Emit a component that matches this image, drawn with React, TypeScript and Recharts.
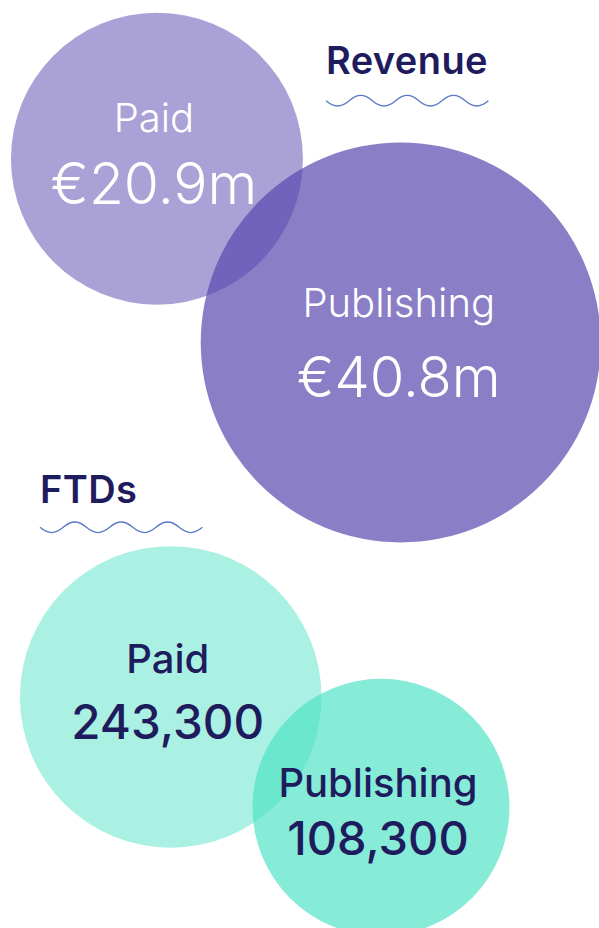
import { Cell, Scatter, ScatterChart, XAxis, YAxis, ZAxis } from "recharts";

const WIDTH = 599;
const HEIGHT = 928;
const FONT = "Inter, 'Noto Sans', sans-serif";
const NAVY = "#1f1c5e";
const WAVE = "#5a78c8";

/** Channels shown in each group, in drawing order. */
const channels = ["Paid", "Publishing"];

/** Revenue in €m, FTDs as counts. */
const revenueValues = [20.9, 40.8];
const ftdValues = [243300, 108300];

/** Bubble layout, in chart units (0–100 on both axes). */
const revenueX = [26.2, 66.9];
const revenueY = [17.1, 36.9];
const ftdX = [28.5, 63.6];
const ftdY = [75.1, 87.0];

interface Bubble {
  channel: string;
  value: number;
  x: number;
  y: number;
}

interface LabelPos {
  dx: number;
  nameDy: number;
  valueDy: number;
  valueSize: number;
}

interface GroupStyle {
  color: string;
  opacity: number[];
  textColor: string;
  weight: number;
  nameSize: number;
  labels: LabelPos[];
  format: (v: number) => string;
}

const toBubbles = (values: number[], xs: number[], ys: number[]): Bubble[] =>
  channels.map((channel, i) => ({ channel, value: values[i], x: xs[i], y: ys[i] }));

const revenueData = toBubbles(revenueValues, revenueX, revenueY);
const ftdData = toBubbles(ftdValues, ftdX, ftdY);

const REVENUE_STYLE: GroupStyle = {
  color: "#5948af",
  opacity: [0.51, 0.7],
  textColor: "#ffffff",
  weight: 300,
  nameSize: 40,
  labels: [
    { dx: -3, nameDy: -27, valueDy: 45, valueSize: 57 },
    { dx: -2, nameDy: -25.5, valueDy: 54.5, valueSize: 56 },
  ],
  format: (v) => `€${v.toFixed(1)}m`,
};

const FTD_STYLE: GroupStyle = {
  color: "#4de2c4",
  opacity: [0.48, 0.68],
  textColor: NAVY,
  weight: 500,
  nameSize: 40,
  labels: [
    { dx: -3, nameDy: -24, valueDy: 42.3, valueSize: 47.5 },
    { dx: -3, nameDy: -10.5, valueDy: 47.5, valueSize: 47 },
  ],
  format: (v) => v.toLocaleString("en-US"),
};

function makeBubbleShape(style: GroupStyle) {
  return function BubbleShape(props: any) {
    const { cx, cy, width, payload } = props;
    const i = Math.max(0, channels.indexOf(payload?.channel));
    const pos = style.labels[i];
    return (
      <g>
        <circle
          cx={cx}
          cy={cy}
          r={width / 2}
          fill={style.color}
          fillOpacity={style.opacity[i]}
        />
        <text
          x={cx + pos.dx}
          y={cy + pos.nameDy}
          textAnchor="middle"
          fill={style.textColor}
          fontFamily={FONT}
          fontWeight={style.weight}
          fontSize={style.nameSize}
        >
          {payload.channel}
        </text>
        <text
          x={cx + pos.dx}
          y={cy + pos.valueDy}
          textAnchor="middle"
          fill={style.textColor}
          fontFamily={FONT}
          fontWeight={style.weight}
          fontSize={pos.valueSize}
        >
          {style.format(payload.value)}
        </text>
      </g>
    );
  };
}

/** Squiggle under a heading: `halves` half-waves, starting downward. */
function wavePath(x0: number, y0: number, half: number, amp: number, halves: number) {
  let d = `M ${x0} ${y0}`;
  for (let i = 0; i < halves; i++) {
    const dir = i % 2 === 0 ? 1 : -1;
    const xs = x0 + half * i;
    const cy = y0 + dir * amp * 1.333;
    d += ` C ${xs + half * 0.36} ${cy} ${xs + half * 0.64} ${cy} ${xs + half} ${y0}`;
  }
  return d;
}

function Heading({ x, y, text, waveY }: { x: number; y: number; text: string; waveY: number }) {
  return (
    <g>
      <text
        x={x}
        y={y}
        fill={NAVY}
        fontFamily={FONT}
        fontWeight={600}
        fontSize={38}
        letterSpacing={0.4}
      >
        {text}
      </text>
      <path
        d={wavePath(x, waveY, 23.2, 5.3, 7)}
        fill="none"
        stroke={WAVE}
        strokeWidth={1.3}
      />
    </g>
  );
}

const extent = (v: number[]) => [Math.min(...v), Math.max(...v)];
const area = (r: number) => Math.PI * r * r;

export default function App() {
  return (
    <div style={{ position: "absolute", left: 0, top: 0, width: WIDTH, height: HEIGHT }}>
      <ScatterChart
        width={WIDTH}
        height={HEIGHT}
        margin={{ top: 0, right: 0, bottom: 0, left: 0 }}
      >
        <XAxis type="number" dataKey="x" domain={[0, 100]} hide />
        <YAxis type="number" dataKey="y" domain={[0, 100]} reversed hide />
        <ZAxis
          zAxisId="revenue"
          type="number"
          dataKey="value"
          domain={extent(revenueValues)}
          range={[area(146), area(200)]}
        />
        <ZAxis
          zAxisId="ftd"
          type="number"
          dataKey="value"
          domain={extent(ftdValues)}
          range={[area(128.5), area(150.8)]}
        />
        <Scatter
          name="Revenue"
          data={revenueData}
          zAxisId="revenue"
          shape={makeBubbleShape(REVENUE_STYLE)}
          isAnimationActive={false}
        >
          {revenueData.map((d) => (
            <Cell key={d.channel} />
          ))}
        </Scatter>
        <Scatter
          name="FTDs"
          data={ftdData}
          zAxisId="ftd"
          shape={makeBubbleShape(FTD_STYLE)}
          isAnimationActive={false}
        >
          {ftdData.map((d) => (
            <Cell key={d.channel} />
          ))}
        </Scatter>
      </ScatterChart>
      <svg
        width={WIDTH}
        height={HEIGHT}
        style={{ position: "absolute", left: 0, top: 0, pointerEvents: "none" }}
      >
        <Heading x={326} y={73.5} text="Revenue" waveY={100.7} />
        <Heading x={40} y={503} text="FTDs" waveY={527.3} />
      </svg>
    </div>
  );
}
